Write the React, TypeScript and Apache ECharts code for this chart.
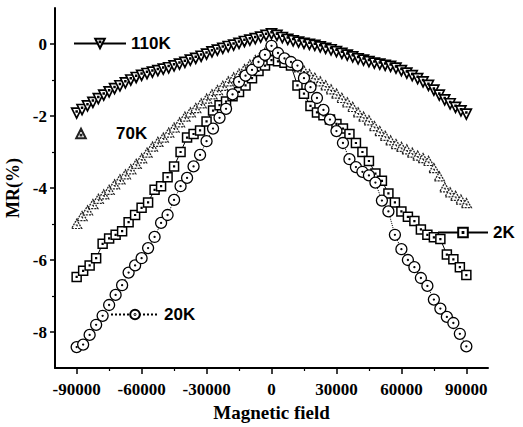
import React, { useEffect, useRef } from "react";
import * as echarts from "echarts";

// Field grids (measurement steps)
const fieldsFine: number[] = Array.from({ length: 73 }, (_, i) => -90000 + i * 2500);
const fieldsCoarse: number[] = Array.from({ length: 61 }, (_, i) => -90000 + i * 3000);

// 110K (step 2500)
const mr110K = [
  -1.92, -1.82, -1.72, -1.62, -1.52, -1.42, -1.33, -1.24, -1.16, -1.08, -1.0, -0.93, -0.87, -0.82, -0.78, -0.74,
  -0.7, -0.66, -0.61, -0.56, -0.51, -0.45, -0.4, -0.34, -0.28, -0.22, -0.17, -0.12, -0.07, -0.03, 0.02, 0.07,
  0.11, 0.15, 0.19, 0.24, 0.28, 0.24, 0.18, 0.13, 0.09, 0.05, 0.02, -0.01, -0.04, -0.08, -0.12, -0.16, -0.21,
  -0.26, -0.31, -0.36, -0.41, -0.45, -0.49, -0.53, -0.56, -0.59, -0.62, -0.67, -0.74, -0.81, -0.88, -0.96,
  -1.05, -1.15, -1.28, -1.42, -1.55, -1.66, -1.76, -1.86, -1.95,
];

// 70K (step 2500)
const mr70K = [
  -5.0, -4.78, -4.62, -4.45, -4.3, -4.18, -4.05, -3.9, -3.76, -3.62, -3.48, -3.33, -3.18, -3.02, -2.85, -2.72,
  -2.6, -2.46, -2.32, -2.18, -2.02, -1.9, -1.78, -1.65, -1.52, -1.4, -1.28, -1.16, -1.04, -0.93, -0.82, -0.7,
  -0.57, -0.45, -0.32, -0.18, -0.05, -0.2, -0.33, -0.45, -0.55, -0.65, -0.74, -0.84, -0.94, -1.04, -1.15, -1.26,
  -1.38, -1.5, -1.62, -1.75, -1.9, -2.02, -2.12, -2.28, -2.42, -2.55, -2.68, -2.78, -2.86, -2.93, -3.02, -3.1,
  -3.17, -3.25, -3.45, -3.68, -3.98, -4.12, -4.22, -4.32, -4.42,
];

// 2K (step 3000)
const mr2K = [
  -6.47, -6.3, -6.15, -5.95, -5.55, -5.4, -5.3, -5.2, -4.95, -4.75, -4.55, -4.4, -4.05, -3.95, -3.7, -3.4, -3.0,
  -2.6, -2.5, -2.4, -2.15, -1.85, -1.7, -1.6, -1.45, -1.33, -1.15, -0.95, -0.75, -0.6, -0.45, -0.48, -0.52, -0.6,
  -1.15, -1.38, -1.72, -1.9, -1.98, -2.1, -2.22, -2.35, -2.5, -2.75, -3.0, -3.25, -3.6, -3.8, -4.15, -4.4, -4.65,
  -4.8, -4.92, -5.15, -5.3, -5.37, -5.42, -5.85, -5.98, -6.2, -6.42,
];

// 20K (step 3000)
const mr20K = [
  -8.42, -8.35, -8.08, -7.8, -7.55, -7.25, -6.97, -6.7, -6.35, -6.15, -5.95, -5.67, -5.36, -4.97, -4.75, -4.33,
  -3.95, -3.72, -3.4, -3.08, -2.7, -2.35, -2.05, -1.8, -1.4, -1.05, -0.88, -0.72, -0.5, -0.3, -0.05, -0.25, -0.4,
  -0.5, -0.6, -0.95, -1.2, -1.5, -1.83, -2.1, -2.42, -2.75, -3.2, -3.42, -3.55, -3.65, -3.85, -4.35, -4.65, -5.3,
  -5.7, -6.0, -6.2, -6.5, -6.72, -7.1, -7.35, -7.58, -7.75, -8.05, -8.4,
];

const xLabelValues = [-90000, -60000, -30000, 0, 30000, 60000, 90000];
const xMinorValues = [-75000, -45000, -15000, 15000, 45000, 75000];
const yLabelValues = [-8, -6, -4, -2, 0];
const yMinorValues = [-7, -5, -3, -1];

const SYM_TRI_DOWN = "path://M0,0L10,0L5,10Z M4.6,2.9L5.4,2.9L5.4,3.7L4.6,3.7Z";
const SYM_TRI_UP = "path://M5,0L10,9L0,9Z M4.6,5.6L5.4,5.6L5.4,6.4L4.6,6.4Z";
const SYM_SQUARE = "path://M0,0L10,0L10,10L0,10Z M4.6,4.6L5.4,4.6L5.4,5.4L4.6,5.4Z";
const SYM_CIRCLE =
  "path://M0,5A5,5 0 1 1 10,5A5,5 0 1 1 0,5Z M4.55,5A0.45,0.45 0 1 1 5.45,5A0.45,0.45 0 1 1 4.55,5Z";

const serif = "Liberation Serif, Times New Roman, serif";
const sans = "Liberation Sans, Arial, sans-serif";

export default function App() {
  const ref = useRef<HTMLDivElement>(null);
  useEffect(() => {
    if (!ref.current) return;
    const chart = echarts.init(ref.current, undefined, { renderer: "svg" });
    const tickLabel = {
      fontFamily: serif,
      fontWeight: "bold" as const,
      fontSize: 17,
      color: "#000",
    };
    const legendText = { fontFamily: sans, fontWeight: "bold" as const, fontSize: 17, color: "#000" };
    const mkLegend = (name: string, left: number, top: number, w: number) => ({
      data: [name],
      left,
      top,
      padding: 0,
      itemWidth: w,
      itemHeight: 12,
      selectedMode: false,
      textStyle: legendText,
    });
    chart.setOption({
      animation: false,
      backgroundColor: "#fff",
      grid: { left: 55, right: 35, top: 8, bottom: 59, outerBoundsMode: "none" },
      legend: [
        mkLegend("110K", 73, 35, 52),
        mkLegend("70K", 50, 125, 60),
        mkLegend("2K", 437, 224, 50),
        mkLegend("20K", 110, 306, 48),
      ],
      xAxis: [
        {
          type: "value",
          min: -100000,
          max: 100000,
          position: "bottom",
          axisLine: { show: true, onZero: false, lineStyle: { color: "#000", width: 2 } },
          axisTick: { show: true, length: 6, lineStyle: { color: "#000", width: 1.5 }, customValues: xLabelValues },
          axisLabel: { ...tickLabel, margin: 13, customValues: xLabelValues, formatter: (v: number) => String(v) },
          splitLine: { show: false },
          name: "Magnetic field",
          nameLocation: "middle",
          nameGap: 33,
          nameTextStyle: { fontFamily: serif, fontWeight: "bold", fontSize: 19, color: "#000" },
        },
        {
          type: "value",
          min: -100000,
          max: 100000,
          position: "bottom",
          axisLine: { show: false, onZero: false },
          axisTick: { show: true, length: 3, lineStyle: { color: "#000", width: 1.2 }, customValues: xMinorValues },
          axisLabel: { show: false },
          splitLine: { show: false },
        },
      ],
      yAxis: [
        {
          type: "value",
          min: -9,
          max: 1,
          position: "left",
          axisLine: { show: true, onZero: false, lineStyle: { color: "#000", width: 2 } },
          axisTick: { show: true, length: 5, lineStyle: { color: "#000", width: 1.5 }, customValues: yLabelValues },
          axisLabel: { ...tickLabel, margin: 8, customValues: yLabelValues, formatter: (v: number) => String(v) },
          splitLine: { show: false },
          name: "MR(%)",
          nameLocation: "middle",
          nameGap: 30,
          nameTextStyle: { fontFamily: serif, fontWeight: "bold", fontSize: 18, color: "#000" },
        },
        {
          type: "value",
          min: -9,
          max: 1,
          position: "left",
          axisLine: { show: false, onZero: false },
          axisTick: { show: true, length: 3, lineStyle: { color: "#000", width: 1.2 }, customValues: yMinorValues },
          axisLabel: { show: false },
          splitLine: { show: false },
        },
      ],
      series: [
        {
          name: "70K",
          type: "line",
          silent: true,
          data: fieldsFine.map((x, i) => [x, mr70K[i]]),
          symbol: SYM_TRI_UP,
          symbolSize: [10, 9],
          showSymbol: true,
          lineStyle: { color: "#000", width: 1, opacity: 0 },
          itemStyle: { color: "#fff", borderColor: "#222", borderWidth: 1.3, borderType: [2, 1] },
        },
        {
          name: "2K",
          type: "line",
          silent: true,
          data: fieldsCoarse.map((x, i) => [x, mr2K[i]]),
          symbol: SYM_SQUARE,
          symbolSize: [9, 9],
          showSymbol: true,
          lineStyle: { color: "#000", width: 1 },
          itemStyle: { color: "#fff", borderColor: "#000", borderWidth: 1.5 },
        },
        {
          name: "20K",
          type: "line",
          silent: true,
          data: fieldsCoarse.map((x, i) => [x, mr20K[i]]),
          symbol: SYM_CIRCLE,
          symbolSize: [11, 11],
          showSymbol: true,
          lineStyle: { color: "#000", width: 1, type: "dotted" },
          itemStyle: { color: "#fff", borderColor: "#000", borderWidth: 1.3 },
        },
        {
          name: "110K",
          type: "line",
          silent: true,
          data: fieldsFine.map((x, i) => [x, mr110K[i]]),
          symbol: SYM_TRI_DOWN,
          symbolSize: [10, 10],
          showSymbol: true,
          lineStyle: { color: "#000", width: 1.2 },
          itemStyle: { color: "#fff", borderColor: "#000", borderWidth: 1.7 },
        },
      ],
    });
    return () => chart.dispose();
  }, []);
  return (
    <div
      ref={ref}
      style={{ position: "fixed", left: 0, top: 0, width: 523, height: 427, background: "#fff" }}
    />
  );
}
